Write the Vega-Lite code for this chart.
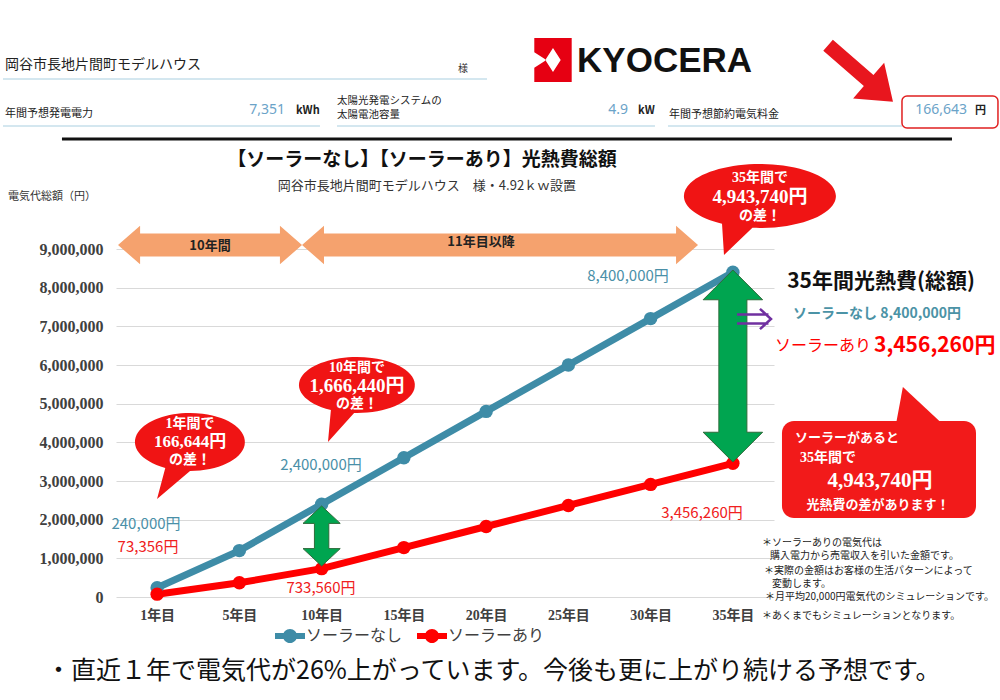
{
  "$schema": "https://vega.github.io/schema/vega-lite/v6.json",
  "width": 658,
  "height": 348,
  "autosize": "none",
  "padding": {"left": 116, "top": 249, "right": 226, "bottom": 103},
  "background": "white",
  "config": {"view": {"stroke": null}, "text": {"font": "Noto Sans CJK JP", "baseline": "middle"}},
  "resolve": {"scale": {"x": "independent", "y": "independent"}},
  "layer": [
    {
      "data": {"values": [
        {"year": "1年目", "series": "ソーラーなし", "amount": 240000},
        {"year": "5年目", "series": "ソーラーなし", "amount": 1200000},
        {"year": "10年目", "series": "ソーラーなし", "amount": 2400000},
        {"year": "15年目", "series": "ソーラーなし", "amount": 3600000},
        {"year": "20年目", "series": "ソーラーなし", "amount": 4800000},
        {"year": "25年目", "series": "ソーラーなし", "amount": 6000000},
        {"year": "30年目", "series": "ソーラーなし", "amount": 7200000},
        {"year": "35年目", "series": "ソーラーなし", "amount": 8400000},
        {"year": "1年目", "series": "ソーラーあり", "amount": 73356},
        {"year": "5年目", "series": "ソーラーあり", "amount": 366780},
        {"year": "10年目", "series": "ソーラーあり", "amount": 733560},
        {"year": "15年目", "series": "ソーラーあり", "amount": 1278000},
        {"year": "20年目", "series": "ソーラーあり", "amount": 1823000},
        {"year": "25年目", "series": "ソーラーあり", "amount": 2367000},
        {"year": "30年目", "series": "ソーラーあり", "amount": 2912000},
        {"year": "35年目", "series": "ソーラーあり", "amount": 3456260}
      ]},
      "encoding": {
        "x": {"field": "year", "type": "ordinal", "sort": ["1年目", "5年目", "10年目", "15年目", "20年目", "25年目", "30年目", "35年目"],
          "scale": {"type": "point", "padding": 0.5},
          "axis": {"title": null, "labelAngle": 0, "labelFont": "Liberation Serif, Noto Sans CJK JP", "labelFontWeight": "bold", "labelFontSize": 14, "labelColor": "#404040", "labelPadding": 11, "ticks": false, "domain": false, "grid": false}},
        "y": {"field": "amount", "type": "quantitative",
          "scale": {"domain": [0, 9000000], "nice": false},
          "axis": {"title": null, "values": [0, 1000000, 2000000, 3000000, 4000000, 5000000, 6000000, 7000000, 8000000, 9000000], "format": ",d", "labelFont": "Liberation Serif", "labelFontWeight": "bold", "labelFontSize": 16, "labelColor": "#404040", "labelPadding": 13, "labelOverlap": false, "ticks": false, "domain": false, "grid": true, "gridColor": "#D9D9D9"}}
      },
      "layer": [
        {"mark": {"type": "line", "strokeWidth": 7},
         "encoding": {"detail": {"field": "series", "type": "nominal"},
           "stroke": {"condition": {"test": "datum.series === 'ソーラーなし'", "value": "#3E8CA7"}, "value": "#FF0000"}}},
        {"mark": {"type": "point", "filled": true, "size": 180, "opacity": 1},
         "encoding": {"color": {"field": "series", "type": "nominal", "scale": {"domain": ["ソーラーなし", "ソーラーあり"], "range": ["#3E8CA7", "#FF0000"]},
           "legend": {"orient": "none", "legendX": 159, "legendY": 372, "direction": "horizontal", "title": null,
             "symbolType": "M-1,-0.2H1V0.2H-1Z M0.47,0 A0.47,0.47 0 1,1 -0.47,0 A0.47,0.47 0 1,1 0.47,0 Z",
             "symbolSize": 900, "symbolStrokeWidth": 0, "labelFont": "Noto Sans CJK JP", "labelFontSize": 16, "labelColor": "#404040", "columnPadding": 14, "labelOffset": 1}}}}
      ]
    },
    {
      "data": {"values": [{"note": "annotation"}]},
      "layer": [
        {"mark": {"type": "rule", "color": "#A9CFE0", "strokeWidth": 1},
         "encoding": {"x": {"datum": -1.874, "type": "quantitative", "scale": {"domain": [-0.5, 7.5], "nice": false, "zero": false}, "axis": null}, "x2": {"datum": 4.011}, "y": {"datum": 13396500, "type": "quantitative", "scale": {"domain": [0, 9000000], "nice": false, "zero": false}, "axis": null}}},
        {"mark": {"type": "rule", "color": "#A9CFE0", "strokeWidth": 1},
         "encoding": {"x": {"datum": -1.874, "type": "quantitative", "axis": null}, "x2": {"datum": 1.98}, "y": {"datum": 12181000, "type": "quantitative", "axis": null}}},
        {"mark": {"type": "rule", "color": "#A9CFE0", "strokeWidth": 1},
         "encoding": {"x": {"datum": 2.187, "type": "quantitative", "axis": null}, "x2": {"datum": 6.053}, "y": {"datum": 12181000, "type": "quantitative", "axis": null}}},
        {"mark": {"type": "rule", "color": "#A9CFE0", "strokeWidth": 1},
         "encoding": {"x": {"datum": 6.211, "type": "quantitative", "axis": null}, "x2": {"datum": 9.056}, "y": {"datum": 12181000, "type": "quantitative", "axis": null}}},
        {"mark": {"type": "rule", "color": "#111111", "strokeWidth": 3},
         "encoding": {"x": {"datum": -1.157, "type": "quantitative", "axis": null}, "x2": {"datum": 9.664}, "y": {"datum": 11844800, "type": "quantitative", "axis": null}}},
        {"mark": {"type": "rect", "filled": false, "stroke": "#E02020", "strokeWidth": 1.5, "cornerRadius": 5},
         "encoding": {"x": {"datum": 9.056, "type": "quantitative", "axis": null}, "x2": {"datum": 10.223}, "y": {"datum": 12956900, "type": "quantitative", "axis": null}, "y2": {"datum": 12129300}}},
        {"mark": {"type": "point", "filled": true, "opacity": 1, "color": "#E60012", "size": 1936,
           "shape": "M-0.85,-1 L0.85,-1 L0.85,1 L-0.85,1 Z M-0.85,-0.35 L-0.85,0.35 L-0.3,0 Z M0,-0.55 L-0.35,0 L0,0.55 L0.35,0 Z"},
         "encoding": {"x": {"datum": 4.813, "type": "quantitative", "axis": null}, "y": {"datum": 13887900, "type": "quantitative", "axis": null}}},
        {"mark": {"type": "point", "filled": true, "opacity": 1, "color": "#E8161E", "size": 7396, "angle": 41,
           "shape": "M-1,-0.17 L0.25,-0.17 L0.25,-0.55 L1,0 L0.25,0.55 L0.25,0.17 L-1,0.17 Z"},
         "encoding": {"x": {"datum": 8.552, "type": "quantitative", "axis": null}, "y": {"datum": 13538800, "type": "quantitative", "axis": null}}},
        {"mark": {"type": "point", "filled": true, "opacity": 1, "color": "#F5A26E", "size": 33856,
           "shape": "M-1,0 L-0.76,-0.21 L-0.76,-0.125 L0.76,-0.125 L0.76,-0.21 L1,0 L0.76,0.21 L0.76,0.125 L-0.76,0.125 L-0.76,0.21 Z"},
         "encoding": {"x": {"datum": 0.643, "type": "quantitative", "axis": null}, "y": {"datum": 9103400, "type": "quantitative", "axis": null}}},
        {"mark": {"type": "point", "filled": true, "opacity": 1, "color": "#F5A26E", "size": 156816,
           "shape": "M-1,0 L-0.889,-0.097 L-0.889,-0.058 L0.889,-0.058 L0.889,-0.097 L1,0 L0.889,0.097 L0.889,0.058 L-0.889,0.058 L-0.889,0.097 Z"},
         "encoding": {"x": {"datum": 4.169, "type": "quantitative", "axis": null}, "y": {"datum": 9103400, "type": "quantitative", "axis": null}}},
        {"mark": {"type": "point", "filled": true, "opacity": 1, "color": "#F01414", "size": 12100,
           "shape": "M-0.45,0.471 L-0.6,1.036 L0,0.527 A1,0.527 0 1,0 -0.45,0.471 Z"},
         "encoding": {"x": {"datum": 0.4, "type": "quantitative", "axis": null}, "y": {"datum": 4008600, "type": "quantitative", "axis": null}}},
        {"mark": {"type": "point", "filled": true, "opacity": 1, "color": "#F01414", "size": 13456,
           "shape": "M-0.45,0.431 L-0.5,0.983 L-0.05,0.482 A1,0.483 0 1,0 -0.45,0.431 Z"},
         "encoding": {"x": {"datum": 2.43, "type": "quantitative", "axis": null}, "y": {"datum": 5482800, "type": "quantitative", "axis": null}}},
        {"mark": {"type": "point", "filled": true, "opacity": 1, "color": "#F01414", "size": 23104,
           "shape": "M-0.5,0.365 L-0.474,0.776 L-0.1,0.419 A1,0.421 0 1,0 -0.5,0.365 Z"},
         "encoding": {"x": {"datum": 7.33, "type": "quantitative", "axis": null}, "y": {"datum": 10370700, "type": "quantitative", "axis": null}}},
        {"mark": {"type": "rect", "color": "#F21A1A", "cornerRadius": 12},
         "encoding": {"x": {"datum": 7.597, "type": "quantitative", "axis": null}, "x2": {"datum": 9.956}, "y": {"datum": 4551736, "type": "quantitative", "axis": null}, "y2": {"datum": 2043122}}},
        {"mark": {"type": "point", "filled": true, "opacity": 1, "color": "#F21A1A", "size": 1600,
           "shape": "M-1.18,1 L-0.83,-0.88 L1.18,1 Z"},
         "encoding": {"x": {"datum": 9.269, "type": "quantitative", "axis": null}, "y": {"datum": 4978459, "type": "quantitative", "axis": null}}},
        {"mark": {"type": "point", "filled": true, "opacity": 1, "fill": "#00A550", "stroke": "#2E6B3A", "strokeWidth": 1, "size": 3600,
           "shape": "M0,-1 L0.62,-0.42 L0.24,-0.42 L0.24,0.42 L0.62,0.42 L0,1 L-0.62,0.42 L-0.24,0.42 L-0.24,-0.42 L-0.62,-0.42 Z"},
         "encoding": {"x": {"datum": 2, "type": "quantitative", "axis": null}, "y": {"datum": 1577606, "type": "quantitative", "axis": null}}},
        {"mark": {"type": "point", "filled": true, "opacity": 1, "fill": "#00A550", "stroke": "#2E6B3A", "strokeWidth": 1, "size": 36864,
           "shape": "M0,-1 L0.31,-0.69 L0.146,-0.69 L0.146,0.69 L0.31,0.69 L0,1 L-0.31,0.69 L-0.146,0.69 L-0.146,-0.69 L-0.31,-0.69 Z"},
         "encoding": {"x": {"datum": 7, "type": "quantitative", "axis": null}, "y": {"datum": 5974146, "type": "quantitative", "axis": null}}},
        {"mark": {"type": "point", "filled": false, "opacity": 1, "stroke": "#7030A0", "strokeWidth": 2.5, "size": 1156,
           "shape": "M-1,-0.26 L0.85,-0.26 M-1,0.26 L0.85,0.26 M0.35,-0.6 L1,0 L0.35,0.6"},
         "encoding": {"x": {"datum": 7.257, "type": "quantitative", "axis": null}, "y": {"datum": 7189660, "type": "quantitative", "axis": null}}},

        {"mark": {"type": "text", "text": "岡谷市長地片間町モデルハウス", "align": "left", "fontSize": 14, "color": "#222222"},
         "encoding": {"x": {"datum": -1.85, "type": "quantitative", "axis": null}, "y": {"datum": 13758600, "type": "quantitative", "axis": null}}},
        {"mark": {"type": "text", "text": "様", "align": "left", "fontSize": 10, "color": "#333333"},
         "encoding": {"x": {"datum": 3.658, "type": "quantitative", "axis": null}, "y": {"datum": 13655200, "type": "quantitative", "axis": null}}},
        {"mark": {"type": "text", "text": "年間予想発電電力", "align": "left", "fontSize": 11, "color": "#222222"},
         "encoding": {"x": {"datum": -1.85, "type": "quantitative", "axis": null}, "y": {"datum": 12491400, "type": "quantitative", "axis": null}}},
        {"mark": {"type": "text", "text": "7,351", "align": "right", "fontSize": 14, "font": "Noto Sans", "color": "#6BA3C8"},
         "encoding": {"x": {"datum": 1.555, "type": "quantitative", "axis": null}, "y": {"datum": 12594800, "type": "quantitative", "axis": null}}},
        {"mark": {"type": "text", "text": "kWh", "align": "left", "fontSize": 11, "fontWeight": "bold", "color": "#222222"},
         "encoding": {"x": {"datum": 1.688, "type": "quantitative", "axis": null}, "y": {"datum": 12568956, "type": "quantitative", "axis": null}}},
        {"mark": {"type": "text", "text": "太陽光発電システムの", "align": "left", "fontSize": 10.5, "color": "#222222"},
         "encoding": {"x": {"datum": 2.187, "type": "quantitative", "axis": null}, "y": {"datum": 12827600, "type": "quantitative", "axis": null}}},
        {"mark": {"type": "text", "text": "太陽電池容量", "align": "left", "fontSize": 10.5, "color": "#222222"},
         "encoding": {"x": {"datum": 2.187, "type": "quantitative", "axis": null}, "y": {"datum": 12465500, "type": "quantitative", "axis": null}}},
        {"mark": {"type": "text", "text": "4.9", "align": "right", "fontSize": 14, "font": "Noto Sans", "color": "#6BA3C8"},
         "encoding": {"x": {"datum": 5.725, "type": "quantitative", "axis": null}, "y": {"datum": 12594800, "type": "quantitative", "axis": null}}},
        {"mark": {"type": "text", "text": "kW", "align": "left", "fontSize": 11, "fontWeight": "bold", "color": "#222222"},
         "encoding": {"x": {"datum": 5.847, "type": "quantitative", "axis": null}, "y": {"datum": 12568956, "type": "quantitative", "axis": null}}},
        {"mark": {"type": "text", "text": "年間予想節約電気料金", "align": "left", "fontSize": 11, "color": "#222222"},
         "encoding": {"x": {"datum": 6.223, "type": "quantitative", "axis": null}, "y": {"datum": 12465500, "type": "quantitative", "axis": null}}},
        {"mark": {"type": "text", "text": "166,643", "align": "right", "fontSize": 14, "font": "Noto Sans", "color": "#6BA3C8"},
         "encoding": {"x": {"datum": 9.847, "type": "quantitative", "axis": null}, "y": {"datum": 12594800, "type": "quantitative", "axis": null}}},
        {"mark": {"type": "text", "text": "円", "align": "left", "fontSize": 11, "fontWeight": "bold", "color": "#222222"},
         "encoding": {"x": {"datum": 9.944, "type": "quantitative", "axis": null}, "y": {"datum": 12568956, "type": "quantitative", "axis": null}}},
        {"mark": {"type": "text", "text": "KYOCERA", "align": "center", "fontSize": 35, "fontWeight": "bold", "font": "Liberation Sans", "color": "#111111"},
         "encoding": {"x": {"datum": 6.17, "type": "quantitative", "axis": null}, "y": {"datum": 13862000, "type": "quantitative", "axis": null}}},

        {"mark": {"type": "text", "text": "【ソーラーなし】【ソーラーあり】光熱費総額", "align": "center", "fontSize": 19, "fontWeight": "bold", "color": "#111111"},
         "encoding": {"x": {"datum": 3.22, "type": "quantitative", "axis": null}, "y": {"datum": 11301700, "type": "quantitative", "axis": null}}},
        {"mark": {"type": "text", "text": "岡谷市長地片間町モデルハウス　様・4.92ｋｗ設置", "align": "center", "fontSize": 13, "color": "#333333"},
         "encoding": {"x": {"datum": 3.281, "type": "quantitative", "axis": null}, "y": {"datum": 10629300, "type": "quantitative", "axis": null}}},
        {"mark": {"type": "text", "text": "電気代総額（円）", "align": "left", "fontSize": 11, "color": "#333333"},
         "encoding": {"x": {"datum": -1.813, "type": "quantitative", "axis": null}, "y": {"datum": 10344800, "type": "quantitative", "axis": null}}},
        {"mark": {"type": "text", "text": "10年間", "align": "center", "fontSize": 13, "fontWeight": "bold", "color": "#222222"},
         "encoding": {"x": {"datum": 0.643, "type": "quantitative", "axis": null}, "y": {"datum": 9077600, "type": "quantitative", "axis": null}}},
        {"mark": {"type": "text", "text": "11年目以降", "align": "center", "fontSize": 13, "fontWeight": "bold", "color": "#222222"},
         "encoding": {"x": {"datum": 3.938, "type": "quantitative", "axis": null}, "y": {"datum": 9181000, "type": "quantitative", "axis": null}}},

        {"mark": {"type": "text", "text": "240,000円", "align": "center", "fontSize": 15, "color": "#4A90A8"},
         "encoding": {"x": {"datum": -0.135, "type": "quantitative", "axis": null}, "y": {"datum": 1888000, "type": "quantitative", "axis": null}}},
        {"mark": {"type": "text", "text": "73,356円", "align": "center", "fontSize": 15, "color": "#F02020"},
         "encoding": {"x": {"datum": -0.111, "type": "quantitative", "axis": null}, "y": {"datum": 1293124, "type": "quantitative", "axis": null}}},
        {"mark": {"type": "text", "text": "2,400,000円", "align": "center", "fontSize": 15, "color": "#4A90A8"},
         "encoding": {"x": {"datum": 1.992, "type": "quantitative", "axis": null}, "y": {"datum": 3413800, "type": "quantitative", "axis": null}}},
        {"mark": {"type": "text", "text": "733,560円", "align": "center", "fontSize": 15, "color": "#F02020"},
         "encoding": {"x": {"datum": 1.992, "type": "quantitative", "axis": null}, "y": {"datum": 232800, "type": "quantitative", "axis": null}}},
        {"mark": {"type": "text", "text": "8,400,000円", "align": "center", "fontSize": 15, "color": "#4A90A8"},
         "encoding": {"x": {"datum": 5.725, "type": "quantitative", "axis": null}, "y": {"datum": 8301700, "type": "quantitative", "axis": null}}},
        {"mark": {"type": "text", "text": "3,456,260円", "align": "center", "fontSize": 15, "color": "#F02020"},
         "encoding": {"x": {"datum": 6.625, "type": "quantitative", "axis": null}, "y": {"datum": 2172400, "type": "quantitative", "axis": null}}},

        {"mark": {"type": "text", "text": "1年間で", "align": "center", "fontSize": 14, "fontWeight": "bold", "font": "Liberation Serif, Noto Sans CJK JP", "color": "white"},
         "encoding": {"x": {"datum": 0.4, "type": "quantitative", "axis": null}, "y": {"datum": 4474150, "type": "quantitative", "axis": null}}},
        {"mark": {"type": "text", "text": "166,644円", "align": "center", "fontSize": 17, "fontWeight": "bold", "font": "Liberation Serif, Noto Sans CJK JP", "color": "white"},
         "encoding": {"x": {"datum": 0.4, "type": "quantitative", "axis": null}, "y": {"datum": 4008600, "type": "quantitative", "axis": null}}},
        {"mark": {"type": "text", "text": "の差！", "align": "center", "fontSize": 14, "fontWeight": "bold", "font": "Liberation Serif, Noto Sans CJK JP", "color": "white"},
         "encoding": {"x": {"datum": 0.4, "type": "quantitative", "axis": null}, "y": {"datum": 3543118, "type": "quantitative", "axis": null}}},
        {"mark": {"type": "text", "text": "10年間で", "align": "center", "fontSize": 14, "fontWeight": "bold", "font": "Liberation Serif, Noto Sans CJK JP", "color": "white"},
         "encoding": {"x": {"datum": 2.43, "type": "quantitative", "axis": null}, "y": {"datum": 5922422, "type": "quantitative", "axis": null}}},
        {"mark": {"type": "text", "text": "1,666,440円", "align": "center", "fontSize": 19, "fontWeight": "bold", "font": "Liberation Serif, Noto Sans CJK JP", "color": "white"},
         "encoding": {"x": {"datum": 2.43, "type": "quantitative", "axis": null}, "y": {"datum": 5456906, "type": "quantitative", "axis": null}}},
        {"mark": {"type": "text", "text": "の差！", "align": "center", "fontSize": 14, "fontWeight": "bold", "font": "Liberation Serif, Noto Sans CJK JP", "color": "white"},
         "encoding": {"x": {"datum": 2.43, "type": "quantitative", "axis": null}, "y": {"datum": 4991390, "type": "quantitative", "axis": null}}},
        {"mark": {"type": "text", "text": "35年間で", "align": "center", "fontSize": 14, "fontWeight": "bold", "font": "Liberation Serif, Noto Sans CJK JP", "color": "white"},
         "encoding": {"x": {"datum": 7.33, "type": "quantitative", "axis": null}, "y": {"datum": 10836202, "type": "quantitative", "axis": null}}},
        {"mark": {"type": "text", "text": "4,943,740円", "align": "center", "fontSize": 19, "fontWeight": "bold", "font": "Liberation Serif, Noto Sans CJK JP", "color": "white"},
         "encoding": {"x": {"datum": 7.33, "type": "quantitative", "axis": null}, "y": {"datum": 10344824, "type": "quantitative", "axis": null}}},
        {"mark": {"type": "text", "text": "の差！", "align": "center", "fontSize": 14, "fontWeight": "bold", "font": "Liberation Serif, Noto Sans CJK JP", "color": "white"},
         "encoding": {"x": {"datum": 7.33, "type": "quantitative", "axis": null}, "y": {"datum": 9853446, "type": "quantitative", "axis": null}}},

        {"mark": {"type": "text", "text": "35年間光熱費(総額)", "align": "center", "fontSize": 21, "fontWeight": "bold", "color": "#111111"},
         "encoding": {"x": {"datum": 8.801, "type": "quantitative", "axis": null}, "y": {"datum": 8146554, "type": "quantitative", "axis": null}}},
        {"mark": {"type": "text", "text": "ソーラーなし  8,400,000円", "align": "left", "fontSize": 14, "fontWeight": "bold", "color": "#4B93A6"},
         "encoding": {"x": {"datum": 7.731, "type": "quantitative", "axis": null}, "y": {"datum": 7318970, "type": "quantitative", "axis": null}}},
        {"mark": {"type": "text", "text": "ソーラーあり", "align": "left", "fontSize": 16, "color": "#FF0000"},
         "encoding": {"x": {"datum": 7.512, "type": "quantitative", "axis": null}, "y": {"datum": 6491386, "type": "quantitative", "axis": null}}},
        {"mark": {"type": "text", "text": "3,456,260円", "align": "left", "fontSize": 21, "fontWeight": "bold", "color": "#FF0000"},
         "encoding": {"x": {"datum": 8.716, "type": "quantitative", "axis": null}, "y": {"datum": 6491386, "type": "quantitative", "axis": null}}},
        {"mark": {"type": "text", "text": "ソーラーがあると", "align": "left", "fontSize": 13, "fontWeight": "bold", "color": "white"},
         "encoding": {"x": {"datum": 7.755, "type": "quantitative", "axis": null}, "y": {"datum": 4112082, "type": "quantitative", "axis": null}}},
        {"mark": {"type": "text", "text": "35年間で", "align": "left", "fontSize": 14, "fontWeight": "bold", "font": "Liberation Serif, Noto Sans CJK JP", "color": "white"},
         "encoding": {"x": {"datum": 7.816, "type": "quantitative", "axis": null}, "y": {"datum": 3594842, "type": "quantitative", "axis": null}}},
        {"mark": {"type": "text", "text": "4,943,740円", "align": "center", "fontSize": 21, "fontWeight": "bold", "font": "Liberation Serif, Noto Sans CJK JP", "color": "white"},
         "encoding": {"x": {"datum": 8.789, "type": "quantitative", "axis": null}, "y": {"datum": 3000000, "type": "quantitative", "axis": null}}},
        {"mark": {"type": "text", "text": "光熱費の差があります！", "align": "center", "fontSize": 13, "fontWeight": "bold", "color": "white"},
         "encoding": {"x": {"datum": 8.765, "type": "quantitative", "axis": null}, "y": {"datum": 2379328, "type": "quantitative", "axis": null}}},

        {"mark": {"type": "text", "text": "＊ソーラーありの電気代は", "align": "left", "fontSize": 10, "color": "#222222"},
         "encoding": {"x": {"datum": 7.354, "type": "quantitative", "axis": null}, "y": {"datum": 1396572, "type": "quantitative", "axis": null}}},
        {"mark": {"type": "text", "text": "購入電力から売電収入を引いた金額です。", "align": "left", "fontSize": 10, "color": "#222222"},
         "encoding": {"x": {"datum": 7.451, "type": "quantitative", "axis": null}, "y": {"datum": 1060366, "type": "quantitative", "axis": null}}},
        {"mark": {"type": "text", "text": "＊実際の金額はお客様の生活パターンによって", "align": "left", "fontSize": 10, "color": "#222222"},
         "encoding": {"x": {"datum": 7.378, "type": "quantitative", "axis": null}, "y": {"datum": 672436, "type": "quantitative", "axis": null}}},
        {"mark": {"type": "text", "text": "変動します。", "align": "left", "fontSize": 10, "color": "#222222"},
         "encoding": {"x": {"datum": 7.475, "type": "quantitative", "axis": null}, "y": {"datum": 336230, "type": "quantitative", "axis": null}}},
        {"mark": {"type": "text", "text": "＊月平均20,000円電気代のシミュレーションです。", "align": "left", "fontSize": 10, "color": "#222222"},
         "encoding": {"x": {"datum": 7.39, "type": "quantitative", "axis": null}, "y": {"datum": 0, "type": "quantitative", "axis": null}}},
        {"mark": {"type": "text", "text": "＊あくまでもシミュレーションとなります。", "align": "left", "fontSize": 10, "color": "#222222"},
         "encoding": {"x": {"datum": 7.354, "type": "quantitative", "axis": null}, "y": {"datum": -491354, "type": "quantitative", "axis": null}}},
        {"mark": {"type": "text", "text": "・直近１年で電気代が26%上がっています。今後も更に上がり続ける予想です。", "align": "left", "fontSize": 25, "color": "#111111"},
         "encoding": {"x": {"datum": -1.35, "type": "quantitative", "axis": null}, "y": {"datum": -1913764, "type": "quantitative", "axis": null}}}
      ]
    }
  ]
}
